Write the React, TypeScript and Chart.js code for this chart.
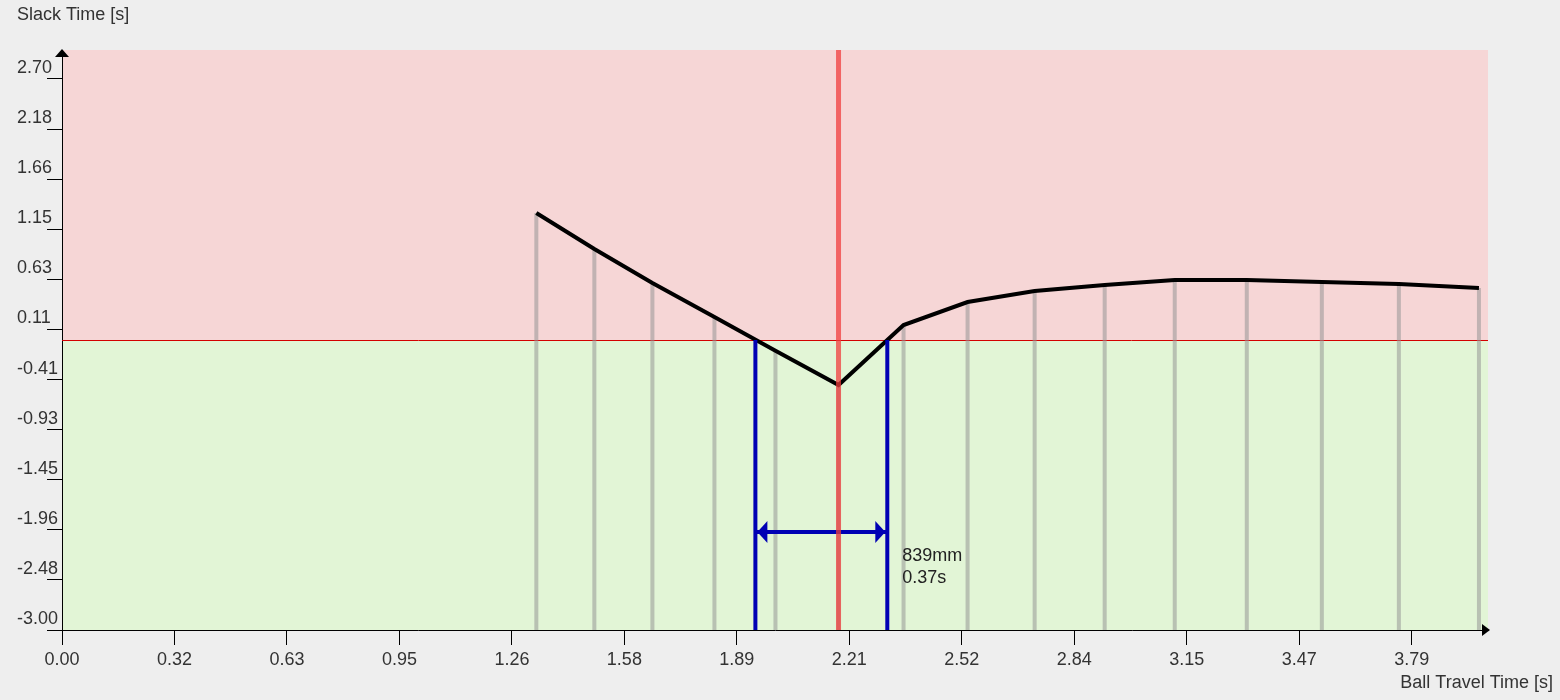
import React, { useEffect, useRef } from "react";
import { Chart, registerables } from "chart.js";

Chart.register(...registerables);

// ---- data ----
const travelTimes = [1.3305, 1.4933, 1.6561, 1.8301, 2.0013, 2.1782, 2.3606, 2.5402, 2.7283, 2.9248, 3.1213, 3.3234, 3.5339, 3.75, 3.9746];
const slackTimes = [1.314, 0.941, 0.59, 0.238, -0.112, -0.466, 0.155, 0.393, 0.507, 0.569, 0.621, 0.621, 0.6, 0.579, 0.538];
const crossingTimes = [1.945, 2.315];
const markerTime = [2.1782];
const arrowLevel = [-1.986];
const windowLabels = ["839mm", "0.37s"];

const xTickValues = [0, 0.3155, 0.631, 0.9465, 1.262, 1.5775, 1.893, 2.2085, 2.524, 2.8395, 3.155, 3.4705, 3.786];
const xTickLabels = ["0.00", "0.32", "0.63", "0.95", "1.26", "1.58", "1.89", "2.21", "2.52", "2.84", "3.15", "3.47", "3.79"];
const yTickValues = [-3.0, -2.4818, -1.9636, -1.4455, -0.9273, -0.4091, 0.1091, 0.6273, 1.1455, 1.6636, 2.1818, 2.7];
const yTickLabels = ["-3.00", "-2.48", "-1.96", "-1.45", "-0.93", "-0.41", "0.11", "0.63", "1.15", "1.66", "2.18", "2.70"];

const xMin = 0;
const xMax = 4.0;
const yMin = -3;
const yMax = 3;

const xTitle = "Ball Travel Time [s]";
const yTitle = "Slack Time [s]";

// ---- styles ----
const FONT = "'Liberation Sans', Arial, sans-serif";
const TEXT = "#333333";
const BG = "#eeeeee";
const PINK = "#f6d6d6";
const GREEN = "#e2f5d6";
const BLUE = "#0000b4";

const decorPlugin = {
  id: "decor",
  beforeDraw(chart: any) {
    const { ctx, chartArea: a, scales } = chart;
    const y0 = scales.y.getPixelForValue(0);
    ctx.save();
    ctx.fillStyle = BG;
    ctx.fillRect(0, 0, chart.width, chart.height);
    ctx.fillStyle = PINK;
    ctx.fillRect(a.left, a.top, a.right - a.left, y0 - a.top);
    ctx.fillStyle = GREEN;
    ctx.fillRect(a.left, y0, a.right - a.left, a.bottom - y0);
    ctx.restore();
  },
  beforeDatasetsDraw(chart: any) {
    const { ctx, chartArea: a, scales } = chart;
    const y0 = Math.round(scales.y.getPixelForValue(0)) + 0.5;
    ctx.save();
    ctx.strokeStyle = "#d40000";
    ctx.lineWidth = 1;
    ctx.beginPath();
    ctx.moveTo(a.left, y0);
    ctx.lineTo(a.right, y0);
    ctx.stroke();
    ctx.restore();
  },
  afterDatasetsDraw(chart: any) {
    const { ctx, scales } = chart;
    const xa = scales.x.getPixelForValue(crossingTimes[0]);
    const xb = scales.x.getPixelForValue(crossingTimes[1]);
    const ya = scales.y.getPixelForValue(arrowLevel[0]);
    ctx.save();
    ctx.fillStyle = BLUE;
    // left head
    ctx.beginPath();
    ctx.moveTo(xa + 2, ya);
    ctx.lineTo(xa + 12, ya - 11);
    ctx.lineTo(xa + 12, ya + 11);
    ctx.closePath();
    ctx.fill();
    // right head
    ctx.beginPath();
    ctx.moveTo(xb - 2, ya);
    ctx.lineTo(xb - 12, ya - 11);
    ctx.lineTo(xb - 12, ya + 11);
    ctx.closePath();
    ctx.fill();
    ctx.fillStyle = "#222222";
    ctx.font = `18px ${FONT}`;
    ctx.textAlign = "left";
    ctx.textBaseline = "middle";
    ctx.fillText(windowLabels[0], xb + 15, ya + 24);
    ctx.fillText(windowLabels[1], xb + 15, ya + 46);
    ctx.restore();
  },
  afterDraw(chart: any) {
    const { ctx, chartArea: a } = chart;
    ctx.save();
    ctx.fillStyle = "#000";
    // y axis arrow
    ctx.beginPath();
    ctx.moveTo(a.left, a.top - 1);
    ctx.lineTo(a.left - 7, a.top + 7);
    ctx.lineTo(a.left + 7, a.top + 7);
    ctx.closePath();
    ctx.fill();
    // x axis arrow
    ctx.beginPath();
    ctx.moveTo(a.right + 2, a.bottom);
    ctx.lineTo(a.right - 6, a.bottom - 6);
    ctx.lineTo(a.right - 6, a.bottom + 6);
    ctx.closePath();
    ctx.fill();
    // titles
    ctx.fillStyle = TEXT;
    ctx.font = `18px ${FONT}`;
    ctx.textBaseline = "middle";
    ctx.textAlign = "left";
    ctx.fillText(yTitle, 17, 15);
    ctx.textAlign = "right";
    ctx.fillText(xTitle, chart.width - 7, 683);
    ctx.restore();
  },
};

export default function App() {
  const ref = useRef<HTMLCanvasElement | null>(null);

  useEffect(() => {
    if (!ref.current) return;
    const curve = travelTimes.map((t, i) => ({ x: t, y: slackTimes[i] }));
    const stems: any[] = [];
    travelTimes.forEach((t, i) => {
      stems.push({ x: t, y: slackTimes[i] }, { x: t, y: yMin }, { x: t, y: null });
    });
    const blues: any[] = [];
    crossingTimes.forEach((t) => {
      blues.push({ x: t, y: 0 }, { x: t, y: yMin }, { x: t, y: null });
    });
    const shaft = crossingTimes.map((t) => ({ x: t, y: arrowLevel[0] }));
    const marker = [
      { x: markerTime[0], y: yMin },
      { x: markerTime[0], y: yMax },
    ];

    const chart = new Chart(ref.current, {
      type: "scatter",
      data: {
        datasets: [
          {
            data: stems,
            showLine: true,
            spanGaps: false,
            borderColor: "rgba(150,150,150,0.55)",
            borderWidth: 4,
            pointRadius: 0,
            order: 5,
          } as any,
          {
            data: curve,
            showLine: true,
            borderColor: "#000000",
            borderWidth: 4,
            pointRadius: 0,
            order: 4,
          } as any,
          {
            data: blues,
            showLine: true,
            spanGaps: false,
            borderColor: BLUE,
            borderWidth: 4,
            pointRadius: 0,
            order: 3,
          } as any,
          {
            data: shaft,
            showLine: true,
            borderColor: BLUE,
            borderWidth: 4,
            pointRadius: 0,
            order: 2,
          } as any,
          {
            data: marker,
            showLine: true,
            borderColor: "rgba(240,60,60,0.75)",
            borderWidth: 5,
            pointRadius: 0,
            order: 1,
            clip: false,
          } as any,
        ],
      },
      options: {
        responsive: false,
        devicePixelRatio: 1,
        animation: false,
        layout: { padding: { left: 17, top: 50, right: 72, bottom: 0 } },
        plugins: {
          legend: { display: false },
          tooltip: { enabled: false },
        },
        scales: {
          x: {
            type: "linear",
            min: xMin,
            max: xMax,
            afterBuildTicks: (s: any) => {
              s.ticks = xTickValues.map((v) => ({ value: v }));
            },
            afterFit: (s: any) => {
              s.height = 70;
            },
            ticks: {
              autoSkip: false,
              maxRotation: 0,
              padding: 4,
              color: TEXT,
              font: { family: FONT, size: 18 },
              callback: (_v: any, i: number) => xTickLabels[i],
            },
            grid: {
              drawOnChartArea: false,
              drawTicks: true,
              tickLength: 15,
              color: "#000",
            },
            border: { color: "#000", width: 1 },
          },
          y: {
            type: "linear",
            min: yMin,
            max: yMax,
            afterBuildTicks: (s: any) => {
              s.ticks = yTickValues.map((v) => ({ value: v }));
            },
            afterFit: (s: any) => {
              s.width = 45;
            },
            ticks: {
              autoSkip: false,
              crossAlign: "far",
              labelOffset: -11,
              color: TEXT,
              font: { family: FONT, size: 18 },
              callback: (_v: any, i: number) => yTickLabels[i],
            },
            grid: {
              drawOnChartArea: false,
              drawTicks: true,
              tickLength: 15,
              color: "#000",
            },
            border: { color: "#000", width: 1 },
          },
        },
      } as any,
      plugins: [decorPlugin],
    });
    return () => chart.destroy();
  }, []);

  return (
    <div style={{ position: "fixed", left: 0, top: 0, width: 1560, height: 700, background: BG }}>
      <canvas ref={ref} width={1560} height={700} style={{ display: "block" }} />
    </div>
  );
}
